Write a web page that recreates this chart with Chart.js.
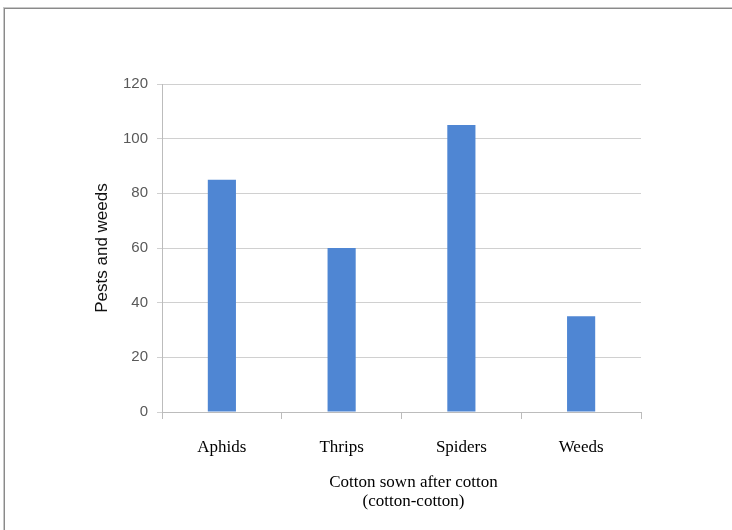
<!DOCTYPE html>
<html>
<head>
<meta charset="utf-8">
<script src="https://cdn.jsdelivr.net/npm/chart.js@4/dist/chart.umd.min.js"></script>
<style>
  html, body { margin: 0; padding: 0; background: #fff; }
  #wrap { position: relative; width: 732px; height: 530px; overflow: hidden; }
  #frame { position: absolute; left: 4px; top: 8px; width: 740px; height: 540px;
           border-left: 1px solid #8a8a8a; border-top: 1px solid #8a8a8a;
           box-shadow: -1px -1px 0 #c8c8c8; }
  canvas { position: absolute; left: 0; top: 0; }
</style>
</head>
<body>
<div id="wrap">
  <div id="frame"></div>
  <canvas id="c" width="732" height="530"></canvas>
</div>
<script>
const categories = ["Aphids", "Thrips", "Spiders", "Weeds"];
const values = [85, 60, 105, 35];
const yTicks = [0, 20, 40, 60, 80, 100, 120];
const yTitle = "Pests and weeds";
const xTitle = ["Cotton sown after cotton", "(cotton-cotton)"];

const xTitlePlugin = {
  id: 'xTitle',
  afterDraw(chart) {
    const ctx = chart.ctx;
    const area = chart.chartArea;
    const cx = (area.left + area.right) / 2 + 12;
    ctx.save();
    ctx.font = '17px "Liberation Serif"';
    ctx.fillStyle = '#000';
    ctx.textAlign = 'center';
    ctx.textBaseline = 'middle';
    xTitle.forEach((line, i) => ctx.fillText(line, cx, 483 + i * 19));
    ctx.restore();
  }
};

new Chart(document.getElementById('c'), {
  type: 'bar',
  data: {
    labels: categories,
    datasets: [{
      data: values,
      backgroundColor: '#4f86d3',
      borderWidth: 0,
      categoryPercentage: 1,
      barPercentage: 0.235
    }]
  },
  options: {
    responsive: false,
    animation: false,
    layout: { padding: { left: 0, right: 91, top: 84, bottom: 0 } },
    plugins: { legend: { display: false }, tooltip: { enabled: false } },
    scales: {
      x: {
        offset: true,
        grid: { display: true, drawOnChartArea: false, drawTicks: true, tickLength: 7, color: '#bcbcbc', offset: true },
        border: { display: true, color: '#bcbcbc', width: 1 },
        ticks: { color: '#000', padding: 18, font: { family: 'Liberation Serif', size: 17 }, maxRotation: 0 },
        afterFit: (s) => { s.height = 118; }
      },
      y: {
        min: 0, max: 120,
        afterBuildTicks: (s) => { s.ticks = yTicks.map(v => ({ value: v })); },
        grid: { color: '#d0d0d0', tickLength: 5, drawTicks: true },
        border: { display: true, color: '#bcbcbc', width: 1 },
        ticks: { color: '#595959', padding: 9, font: { family: 'Liberation Sans', size: 15 } },
        title: { display: true, text: yTitle, color: '#111',
                 font: { family: 'Liberation Sans', size: 17, lineHeight: 1.2 },
                 padding: { top: 92, bottom: 0 } },
        afterFit: (s) => { s.width = 162; }
      }
    }
  },
  plugins: [xTitlePlugin]
});
</script>
</body>
</html>
